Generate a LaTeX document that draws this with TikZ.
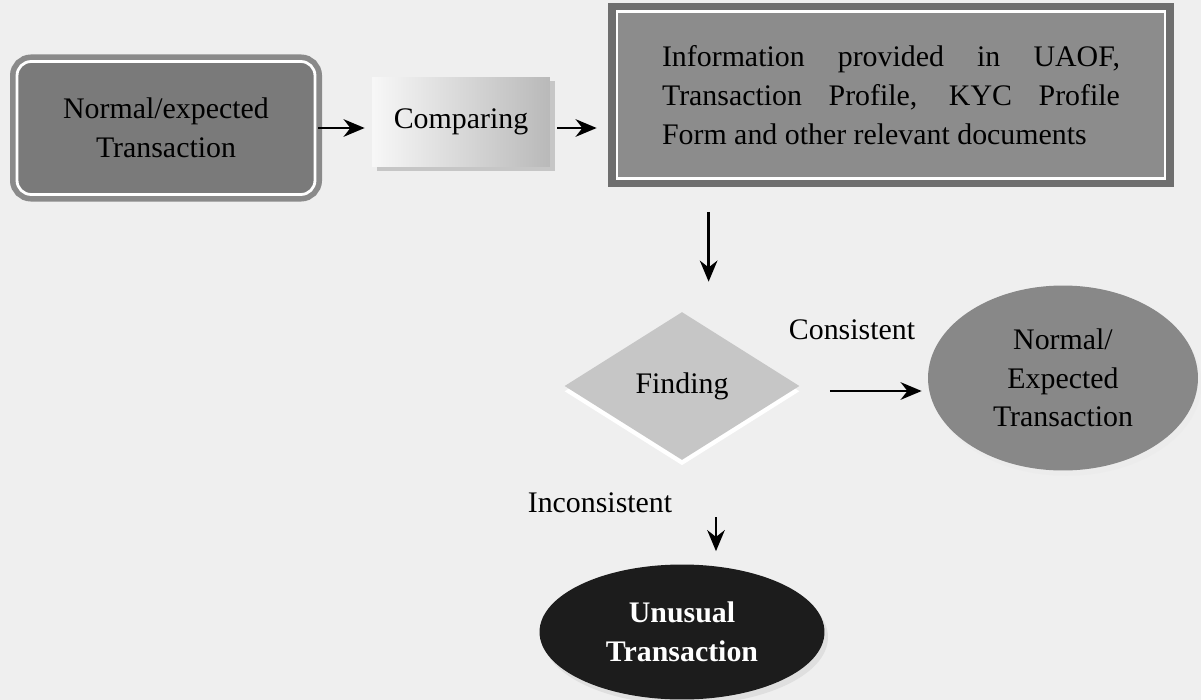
\documentclass[tikz,border=0pt]{standalone}
\usepackage{fontspec}
\setmainfont{Liberation Serif}
\usetikzlibrary{arrows.meta,positioning,shapes.geometric,shadows,calc}
\definecolor{bgcol}{RGB}{239,239,239}
\definecolor{onefill}{RGB}{122,122,122}
\definecolor{oneband}{RGB}{138,138,138}
\definecolor{infofill}{RGB}{140,140,140}
\definecolor{infoband}{RGB}{110,110,110}
\definecolor{diafill}{RGB}{198,198,198}
\definecolor{normfill}{RGB}{136,136,136}
\definecolor{unufill}{RGB}{28,28,28}

\begin{document}
\begin{tikzpicture}[
  x=0.02cm, y=-0.02cm,
  >={Stealth[length=12pt,width=10pt]},
  txt/.style={font=\fontsize{17}{22}\selectfont, align=center, inner sep=0pt},
  framed/.style={txt, draw=white, line width=1.6pt},
  e/.style={->, line width=1.4pt},
]
\fill[bgcol] (0,0) rectangle (1201,700);
\useasboundingbox (0,0) rectangle (1201,700);

% top row
\node[framed, fill=onefill, rounded corners=8pt,
  preaction={draw=oneband, line width=8pt, rounded corners=8pt},
  minimum width=5.96cm, minimum height=2.66cm] (normexp) at (166,128)
  {Normal/expected\\Transaction};
\node[txt, minimum width=3.56cm, minimum height=1.8cm,
  left color=gray!6, right color=gray!55,
  drop shadow={shadow xshift=3pt, shadow yshift=-2pt, fill=gray!45, opacity=1}] (comp) at (461,122)
  {Comparing};
\node[framed, fill=infofill,
  preaction={draw=infoband, line width=10pt},
  minimum width=10.96cm, minimum height=3.34cm, text width=9.16cm, align=justify] (info) at (891,95)
  {\hyphenpenalty=10000 Information provided in UAOF,\linebreak Transaction Profile, KYC Profile\linebreak Form and other relevant documents};

% decision and outcomes
\node[txt, diamond, aspect=1.59, minimum width=4.7cm, minimum height=2.96cm, fill=diafill,
  drop shadow={shadow xshift=0pt, shadow yshift=-3pt, fill=white, opacity=1}] (finding) at (682,386)
  {Finding};
\node[txt, ellipse, minimum width=5.4cm, minimum height=3.7cm, fill=normfill,
  drop shadow={shadow xshift=2pt, shadow yshift=-3pt, fill=gray!15, opacity=1}] (normal) at (1063,378)
  {Normal/\\Expected\\Transaction};
\node[txt, ellipse, minimum width=5.7cm, minimum height=2.7cm, fill=unufill, text=white,
  font=\fontsize{17}{22}\selectfont\bfseries,
  drop shadow={shadow xshift=2pt, shadow yshift=-3pt, fill=gray!25, opacity=1}] (unusual) at (682,632)
  {Unusual\\Transaction};

\node[txt] (cons) at (852,330) {Consistent};
\node[txt] (incons) at (600,503) {Inconsistent};

% connectors
\draw[e, shorten <=1pt, shorten >=4pt] (normexp.east) -- (comp.west |- normexp.east);
\draw[e, shorten <=4pt, shorten >=0.38cm] (comp.east |- normexp.east) -- (info.west |- normexp.east);
\draw[e, shorten <=0.64cm, shorten >=0.6cm] ([xshift=1.86cm]info.south west) -- ([xshift=1.86cm]info.south west |- finding.north);
\draw[e, shorten <=0.6cm, shorten >=0.12cm] ([yshift=-0.1cm]finding.east) -- ([yshift=-0.1cm]finding.east -| normal.west);
\draw[e, shorten <=1.14cm, shorten >=0.26cm] ([xshift=0.68cm]finding.south) -- ([xshift=0.68cm]finding.south |- unusual.north);
\end{tikzpicture}
\end{document}
